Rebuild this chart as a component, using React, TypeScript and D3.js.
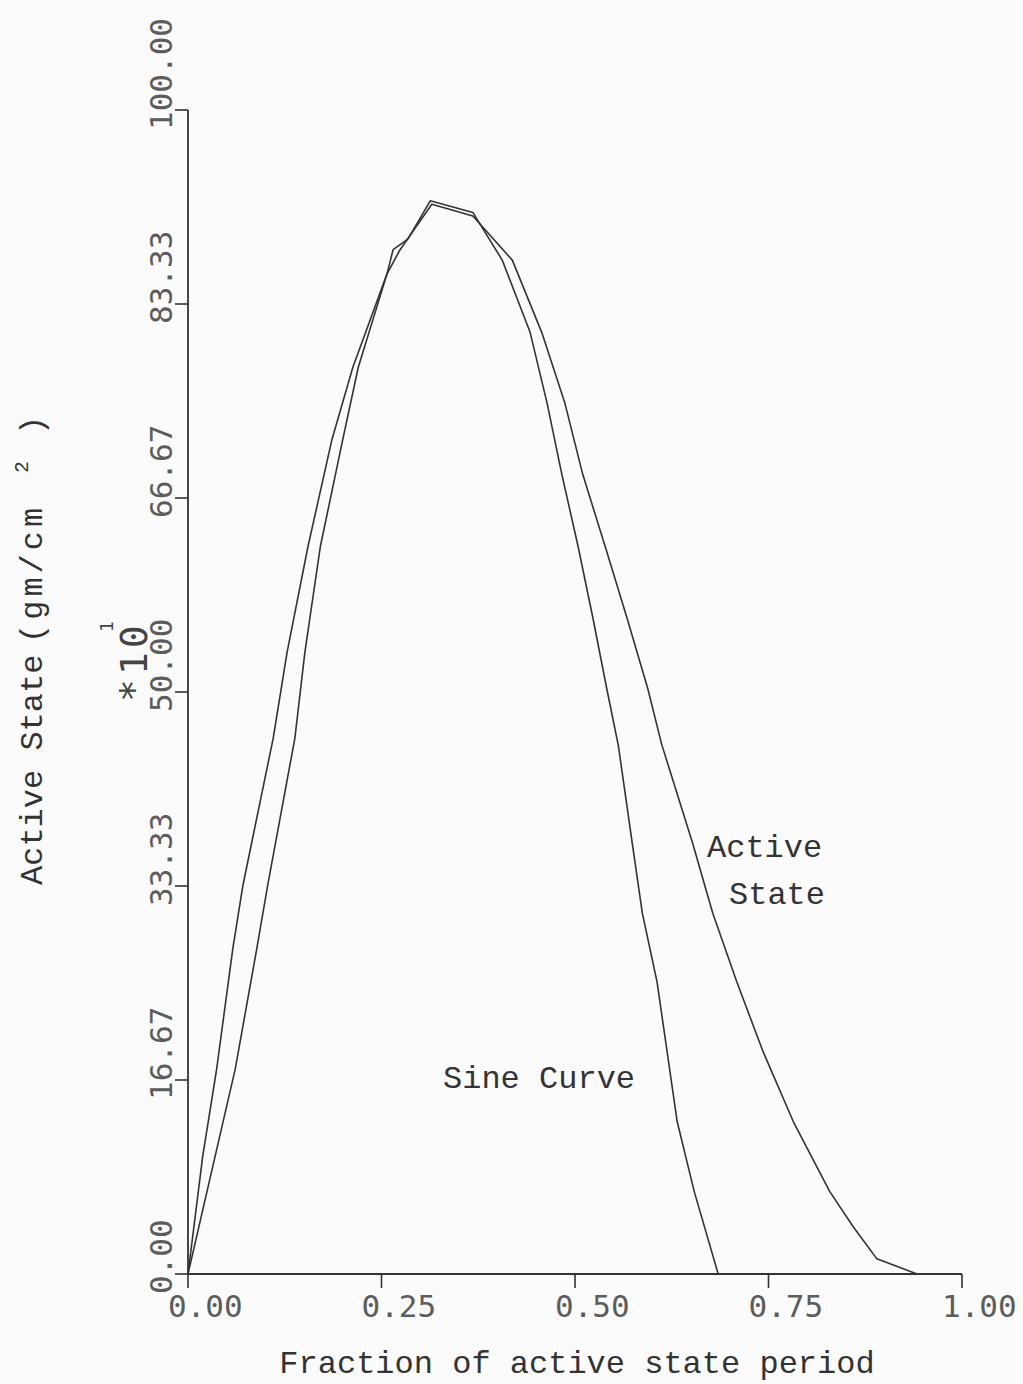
import React from 'react';
import * as d3 from 'd3';

// fraction of active state period / value (x10^1 gm/cm^2)
const sineX = [0, 0.019, 0.037, 0.058, 0.071, 0.110, 0.128, 0.155, 0.186, 0.213, 0.257, 0.265, 0.284, 0.313,
  0.368, 0.406, 0.442, 0.464, 0.483, 0.504, 0.523, 0.541, 0.556, 0.574, 0.587, 0.606, 0.619, 0.632, 0.654, 0.685];
const sineY = [0, 10.1, 17.6, 28.0, 33.4, 46.0, 53.4, 62.5, 71.7, 77.9, 85.9, 88.0, 88.9, 92.2,
  91.2, 87.1, 80.9, 74.8, 68.7, 62.5, 56.4, 50.3, 45.4, 37.0, 31.0, 25.1, 19.1, 13.1, 7.1, 0];

const activeX = [0, 0.035, 0.061, 0.089, 0.103, 0.138, 0.151, 0.171, 0.200, 0.220, 0.257, 0.274, 0.315,
  0.368, 0.419, 0.457, 0.487, 0.510, 0.539, 0.567, 0.594, 0.612, 0.652, 0.678, 0.709, 0.743, 0.782, 0.829,
  0.859, 0.890, 0.942];
const activeY = [0, 10.1, 17.6, 28.0, 33.4, 46.0, 53.4, 62.5, 71.7, 77.9, 85.9, 88.0, 91.9,
  90.9, 87.1, 80.9, 74.8, 68.7, 62.5, 56.4, 50.3, 45.5, 37.0, 31.0, 25.1, 19.1, 13.1, 7.1,
  4.1, 1.3, 0];

const xTicks = [0, 0.25, 0.5, 0.75, 1.0];
const xTickLabels = ['0.00', '0.25', '0.50', '0.75', '1.00'];
const yTicks = [0, 16.667, 33.333, 50, 66.667, 83.333, 100];
const yTickLabels = ['0.00', '16.67', '33.33', '50.00', '66.67', '83.33', '100.00'];

const W = 1023;
const H = 1384;
const ink = '#333';
const plotFont = '"DejaVu Sans Mono", monospace';
const typeFont = '"Liberation Mono", "Courier New", monospace';

export default function App() {
  const x = d3.scaleLinear().domain([0, 1]).range([188, 962]);
  const y = d3.scaleLinear().domain([0, 100]).range([1274, 110]);

  const line = d3.line<[number, number]>()
    .x(d => x(d[0]))
    .y(d => y(d[1]))
    .curve(d3.curveLinear);

  const sinePts = sineX.map((v, i) => [v, sineY[i]] as [number, number]);
  const activePts = activeX.map((v, i) => [v, activeY[i]] as [number, number]);

  return (
    <svg width={W} height={H} style={{ position: 'absolute', left: 0, top: 0, display: 'block', background: '#fbfbfb' }}>
      {/* axes */}
      <line x1={x(0)} x2={x(0)} y1={y(0)} y2={y(100)} stroke={ink} strokeWidth={1.8} />
      <line x1={x(0)} x2={x(1)} y1={y(0)} y2={y(0)} stroke={ink} strokeWidth={1.8} />

      {yTicks.map((t, i) => (
        <g key={'yt' + i}>
          <line x1={x(0) - 13} x2={x(0)} y1={y(t)} y2={y(t)} stroke={ink} strokeWidth={1.6} />
          <text
            transform={`translate(172, ${y(t) + 20}) rotate(-90)`}
            fontFamily={plotFont}
            fontSize={31}
            fill="#5c5c5c"
          >
            {yTickLabels[i]}
          </text>
        </g>
      ))}

      {xTicks.map((t, i) => (
        <g key={'xt' + i}>
          <line x1={x(t)} x2={x(t)} y1={y(0)} y2={y(0) + 14} stroke={ink} strokeWidth={1.6} />
          <text x={x(t) - 20} y={1317} fontFamily={plotFont} fontSize={31} fill="#5c5c5c">
            {xTickLabels[i]}
          </text>
        </g>
      ))}

      {/* exponent marker */}
      <text transform="translate(147, 702) rotate(-90)" fontFamily={plotFont} fontSize={38} letterSpacing={4} fill="#444">
        *10
      </text>
      <text transform="translate(113, 632) rotate(-90)" fontFamily={plotFont} fontSize={18} fill="#444">
        1
      </text>

      {/* curves */}
      <path d={line(sinePts) || ''} fill="none" stroke={ink} strokeWidth={1.6} strokeLinejoin="round" />
      <path d={line(activePts) || ''} fill="none" stroke={ink} strokeWidth={1.6} strokeLinejoin="round" />

      {/* annotations */}
      <text x={707} y={857} fontFamily={typeFont} fontSize={32} fill={ink}>Active</text>
      <text x={729} y={904} fontFamily={typeFont} fontSize={32} fill={ink}>State</text>
      <text x={443} y={1088} fontFamily={typeFont} fontSize={32} fill={ink}>Sine Curve</text>

      {/* axis titles */}
      <text x={577} y={1373} textAnchor="middle" fontFamily={typeFont} fontSize={32} fill={ink}>
        Fraction of active state period
      </text>
      <text transform="translate(42, 885) rotate(-90)" fontFamily={typeFont} fontSize={32} fill={ink}>
        <tspan x={0}>Active State</tspan>
        <tspan x={242} letterSpacing={4}>(gm/cm</tspan>
        <tspan x={412} dy={-14} fontSize={20}>2</tspan>
        <tspan x={450} dy={14}>)</tspan>
      </text>
    </svg>
  );
}
